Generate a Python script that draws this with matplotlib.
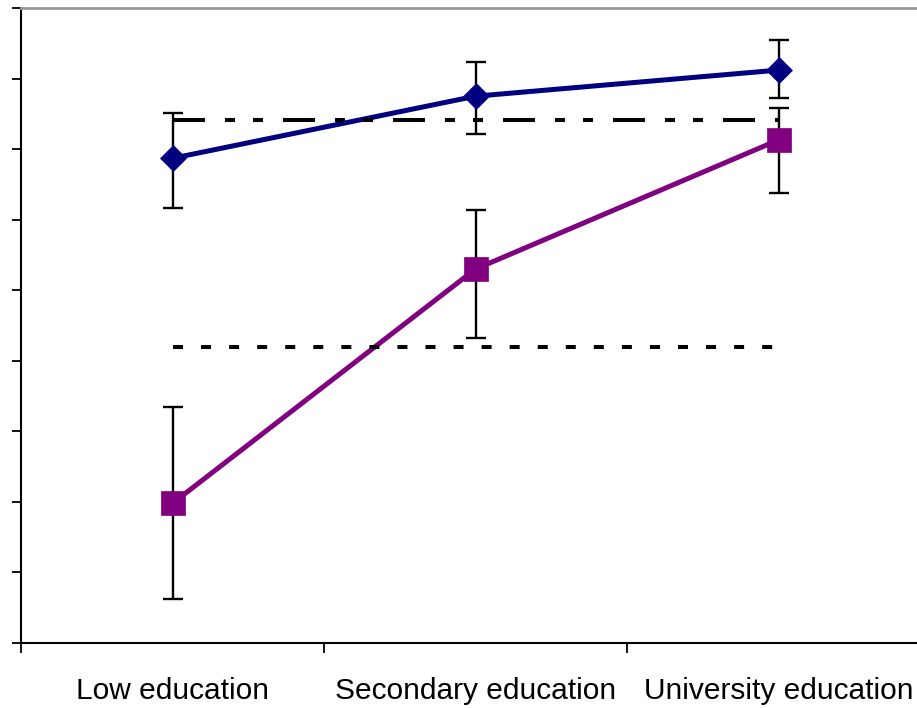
import numpy as np
import matplotlib.pyplot as plt
from matplotlib.ticker import FixedLocator, NullFormatter

plt.rcParams['font.family'] = ['Liberation Sans', 'DejaVu Sans']
plt.rcParams['lines.scale_dashes'] = False

# education levels and group means with error bar limits
levels = ['Low education', 'Secondary education', 'University education']
blue_mean = [6.87, 7.75, 8.12]
blue_hi = [7.51, 8.23, 8.55]
blue_lo = [6.16, 7.21, 7.72]
purple_mean = [1.98, 5.30, 7.13]
purple_hi = [3.34, 6.14, 7.58]
purple_lo = [0.62, 4.32, 6.38]
ref_dashdot = 7.41
ref_dotted = 4.19

x = np.arange(len(levels))
navy = '#000080'
purple = '#800080'

fig = plt.figure(figsize=(9.17, 7.08), dpi=100)
ax = fig.add_axes([0.0229, 0.0918, 0.9913, 0.8969])

for mean, hi, lo in [(blue_mean, blue_hi, blue_lo), (purple_mean, purple_hi, purple_lo)]:
    mean = np.array(mean)
    yerr = [mean - np.array(lo), np.array(hi) - mean]
    ax.errorbar(x, mean, yerr=yerr, fmt='none', ecolor='black',
                elinewidth=1.7, capsize=7, capthick=1.7, zorder=2)

ax.plot(x, blue_mean, color=navy, lw=3.6, marker='D', ms=13.5,
        mec=navy, mew=0.5, zorder=3)
ax.plot(x, purple_mean, color=purple, lw=3.6, marker='s', ms=16.8,
        mec=purple, mew=0.5, zorder=3)

# reference levels across the three groups
ax.plot([x[0], x[-1]], [ref_dashdot] * 2, color='black', lw=2.9,
        linestyle=(0, (23, 14.4, 7.2, 13, 7.2, 14.4)), dash_capstyle='butt', zorder=4)
ax.plot([x[0], x[-1]], [ref_dotted] * 2, color='black', lw=2.9,
        linestyle=(0, (7.2, 13)), dash_capstyle='butt', zorder=4)

ax.set_xlim(-0.5, 2.5)
ax.set_ylim(0, 9)

ax.set_xticks(x)
ax.set_xticklabels(levels, fontsize=21.5)
ax.xaxis.set_minor_locator(FixedLocator([-0.5, 0.5, 1.5, 2.5]))
ax.tick_params(axis='x', which='major', length=0, pad=24.5)
ax.tick_params(axis='x', which='minor', direction='out', length=7, width=1.3, color='black')

ax.set_yticks(np.arange(0, 10))
ax.yaxis.set_major_formatter(NullFormatter())
ax.tick_params(axis='y', direction='out', length=6.5, width=1.3, color='black')

for side in ['left', 'bottom']:
    ax.spines[side].set_color('black')
    ax.spines[side].set_linewidth(1.5)
ax.spines['top'].set_color('#999999')
ax.spines['top'].set_linewidth(2)
ax.spines['right'].set_visible(False)

fig.savefig('out.png', dpi=100)
